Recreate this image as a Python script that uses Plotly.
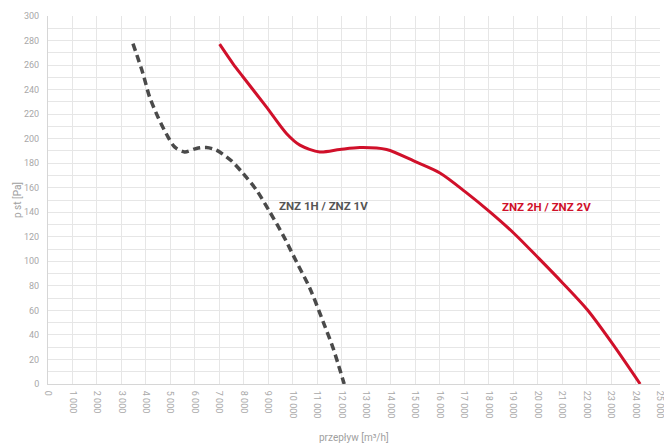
import plotly.graph_objects as go

# ZNZ 1H / ZNZ 1V  (gray dashed)
flow_1 = [3470, 3880, 4150, 4490, 4830, 5170, 5580, 6060, 6470, 6880, 7490, 7970, 8520, 9060, 9600, 10150, 10700, 11240, 11650, 12100]
pst_1 = [277.5, 253, 234, 217.7, 204, 193.3, 189.2, 192, 192.8, 190.6, 182, 171.6, 158, 140.3, 121.4, 99.6, 77.9, 50.7, 29, 0]

# ZNZ 2H / ZNZ 2V  (red solid)
flow_2 = [7010, 7560, 7970, 8920, 9740, 10290, 11100, 11920, 12740, 13830, 15030, 16010, 17050, 18050, 19040, 20050, 21040, 22040, 23050, 24190]
pst_2 = [277, 261, 250.3, 225.9, 204.2, 194.7, 189.2, 191.2, 192.8, 191.2, 181, 172, 156.6, 140.3, 122.7, 102.4, 82, 60.3, 33.1, 0]

x_ticks = list(range(0, 25001, 1000))
x_tick_labels = ["0"] + [f"{v // 1000} 000" for v in x_ticks[1:]]
y_ticks = list(range(0, 301, 20))

label_1 = "ZNZ 1H / ZNZ 1V"
label_2 = "ZNZ 2H / ZNZ 2V"
x_title = "przepływ [m³/h]"
y_title = "p st [Pa]"

FONT = "Roboto"

fig = go.Figure()
fig.add_trace(go.Scatter(x=flow_1, y=pst_1, mode="lines",
                         line=dict(color="#4a4a4a", width=3.5, dash="7.5px,4.5px", shape="spline", smoothing=0.8),
                         showlegend=False, hoverinfo="skip"))
fig.add_trace(go.Scatter(x=flow_2, y=pst_2, mode="lines",
                         line=dict(color="#d0102a", width=3, shape="spline", smoothing=0.8),
                         showlegend=False, hoverinfo="skip"))

fig.add_annotation(x=11270, y=145, text=f"<b>{label_1}</b>", showarrow=False,
                   font=dict(family=FONT, size=11.5, color="#555555"))
fig.add_annotation(x=20350, y=144, text=f"<b>{label_2}</b>", showarrow=False,
                   font=dict(family=FONT, size=11.5, color="#d0102a"))

# axis titles
fig.add_annotation(x=0.5, y=0, xref="paper", yref="paper", yshift=-53, text=x_title,
                   xanchor="center", yanchor="middle",
                   showarrow=False, font=dict(family=FONT, size=10, color="#a0a0a0"))
fig.add_annotation(x=0, y=0.5, xref="paper", yref="paper", xshift=-31, text=y_title, textangle=-90,
                   xanchor="center", yanchor="middle",
                   showarrow=False, font=dict(family=FONT, size=10, color="#a0a0a0"))

fig.update_layout(
    width=664, height=444,
    margin=dict(l=48, r=4, t=16, b=60),
    paper_bgcolor="white", plot_bgcolor="white",
    font=dict(family=FONT, color="#a8a8a8", size=9),
)
fig.update_xaxes(
    range=[0, 25000], tickvals=x_ticks, ticktext=x_tick_labels, tickangle=90,
    showgrid=True, gridcolor="#e6e6e6", gridwidth=1,
    showline=True, linecolor="#d6d6d6", linewidth=1,
    zeroline=False, ticks="", ticklabelstandoff=4, automargin=False,
    ticklabeloverflow="allow",
    tickfont=dict(size=9, color="#a8a8a8"),
)
fig.update_yaxes(
    range=[0, 300], tickvals=y_ticks,
    showgrid=True, gridcolor="#e6e6e6", gridwidth=1,
    minor=dict(dtick=10, showgrid=True, gridcolor="#e6e6e6", gridwidth=1),
    showline=True, linecolor="#d6d6d6", linewidth=1,
    zeroline=False, ticks="", ticklabelstandoff=6, automargin=False,
    tickfont=dict(size=9, color="#a8a8a8"),
)

fig.write_html("out.html", config={"displayModeBar": False},
               post_script="document.body.style.margin='0';document.body.style.overflow='hidden';")
